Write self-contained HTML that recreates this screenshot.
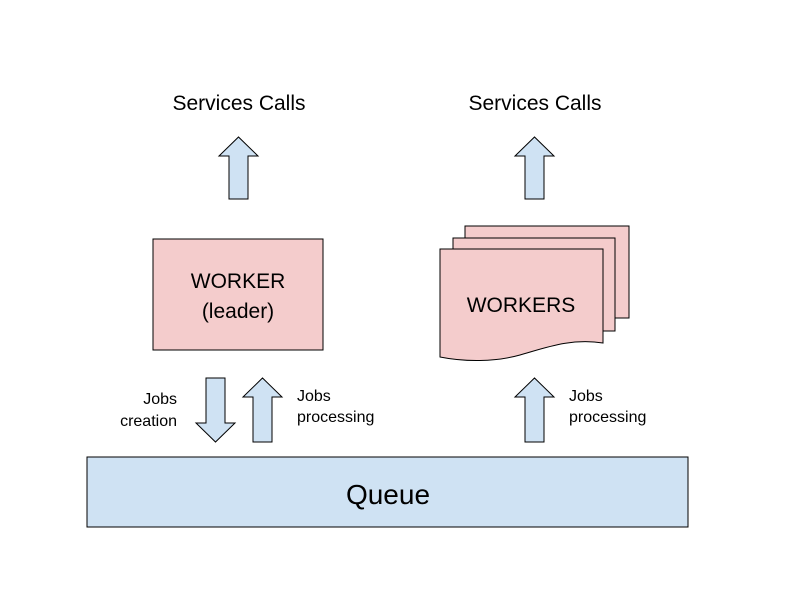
<!DOCTYPE html>
<html><head><style>body{margin:0;background:#fff}</style></head><body>
<svg width="800" height="600" xmlns="http://www.w3.org/2000/svg" font-family="Liberation Sans, Arial, sans-serif">
<rect width="800" height="600" fill="#fff"/>
<g fill="#000" font-size="21" text-anchor="middle">
<text x="239" y="110">Services Calls</text>
<text x="535" y="110">Services Calls</text>
</g>
<g fill="#cfe2f3" stroke="#000" stroke-width="1">
<polygon points="229,199 229,156 219,156 238.5,137 258,156 248,156 248,199"/>
<polygon points="525,199 525,156 515,156 534.5,137 554,156 544,156 544,199"/>
<polygon points="206,378 225,378 225,423 235,423 215.5,442 196,423 206,423"/>
<polygon points="253,442 253,397 243,397 262.5,378 282,397 272,397 272,442"/>
<polygon points="525,442 525,397 515,397 534.5,378 554,397 544,397 544,442"/>
<rect x="87" y="457" width="601" height="70"/>
</g>
<g fill="#f4cccc" stroke="#000" stroke-width="1">
<rect x="153" y="239" width="170" height="111"/>
<rect x="465" y="226" width="164" height="92"/>
<rect x="453" y="238" width="162" height="93"/>
<path d="M440,249 H603 V343 C570,338 545,348 520,355 C495,362 465,362 440,357 Z"/>
</g>
<g fill="#000" text-anchor="middle">
<text x="238" y="288" font-size="21">WORKER</text>
<text x="238" y="318" font-size="21">(leader)</text>
<text x="521" y="312" font-size="21">WORKERS</text>
<text x="388" y="504" font-size="28">Queue</text>
</g>
<g fill="#000" font-size="16">
<text x="177" y="404" text-anchor="end">Jobs</text>
<text x="177" y="426" text-anchor="end">creation</text>
<text x="297" y="401">Jobs</text>
<text x="297" y="422">processing</text>
<text x="569" y="401">Jobs</text>
<text x="569" y="422">processing</text>
</g>
</svg>
</body></html>
